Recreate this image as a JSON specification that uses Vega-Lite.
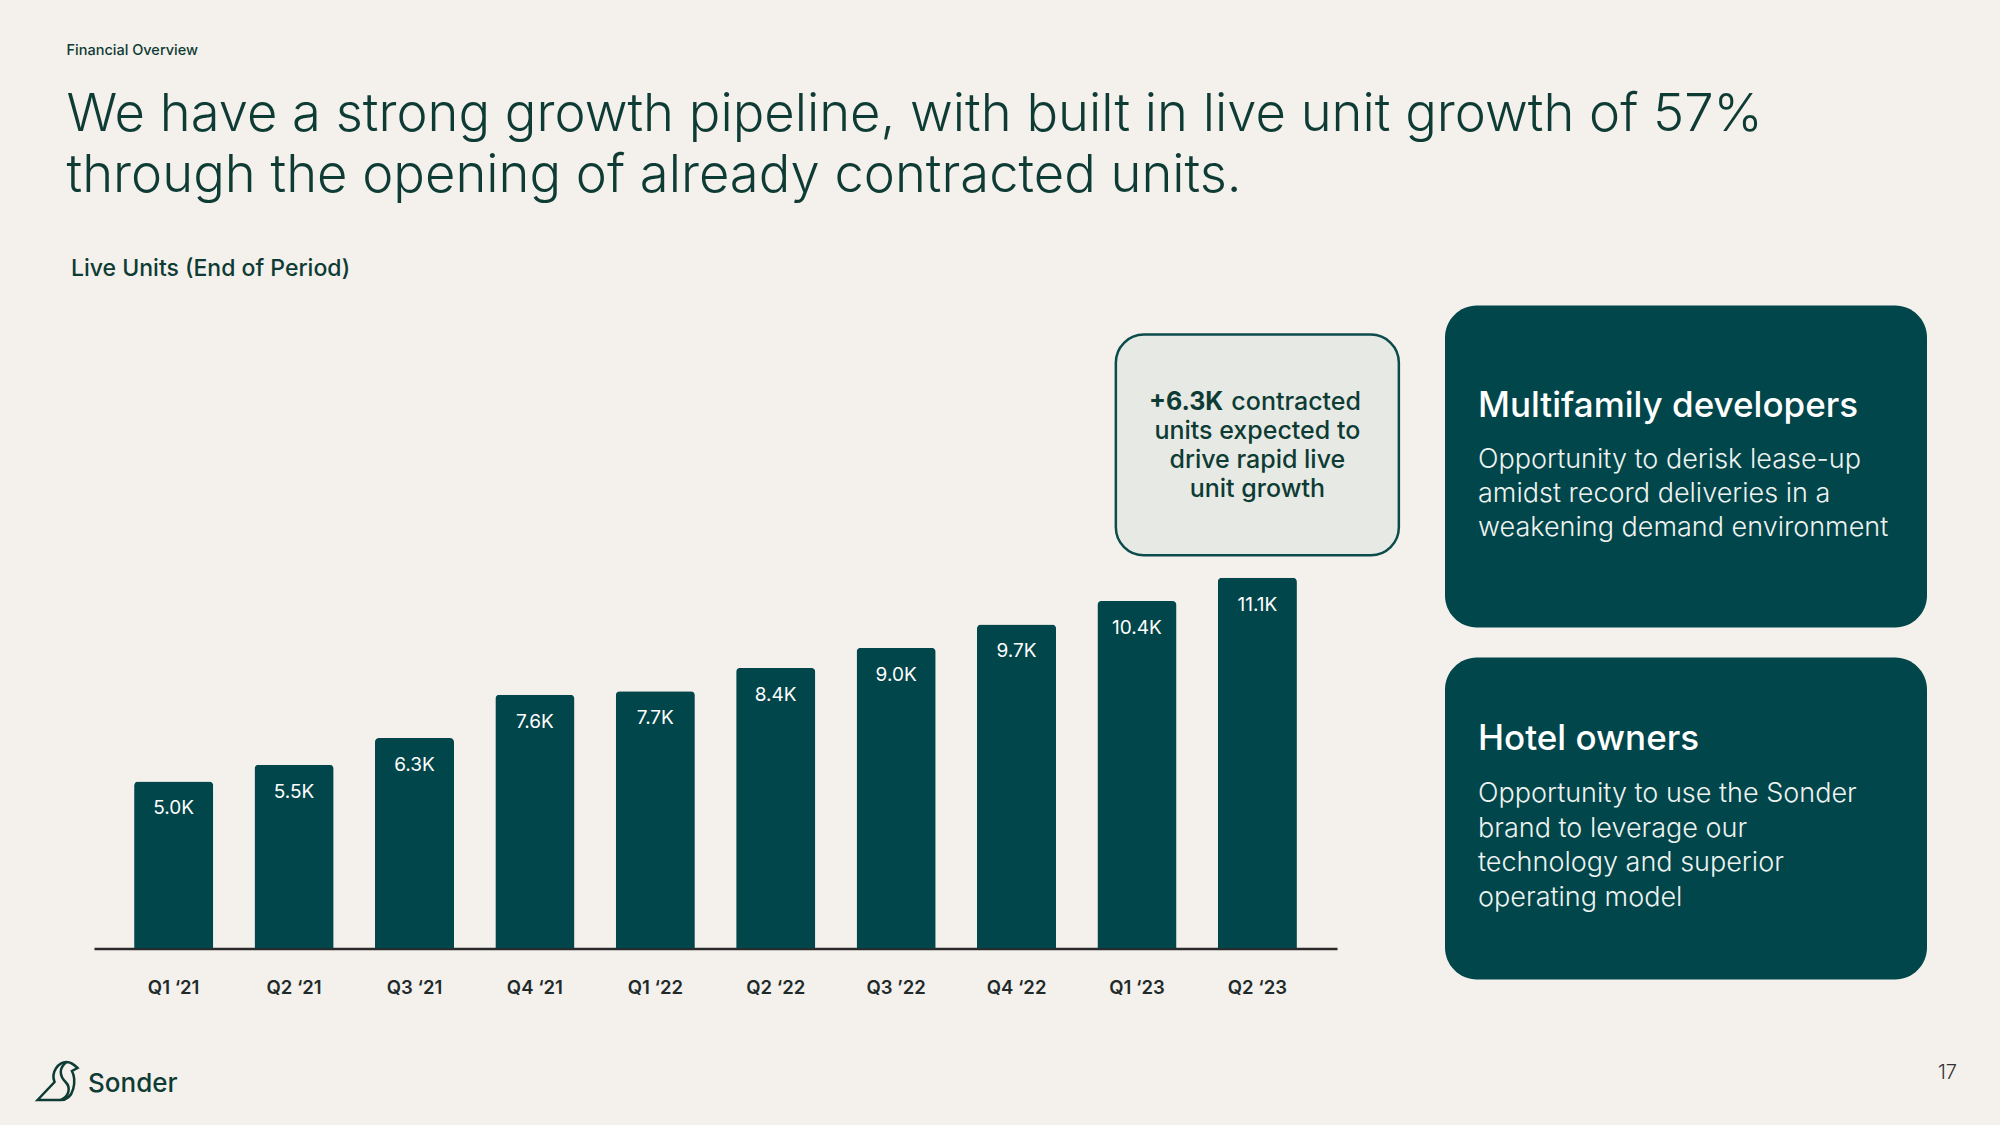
{
  "$schema": "https://vega.github.io/schema/vega-lite/v6.json",
  "background": "#F4F0EC",
  "padding": {"left": 32, "top": 42.5, "right": 43, "bottom": 23.5},
  "title": {
    "text": "Financial Overview",
    "subtitle": ["We have a strong growth pipeline, with built in live unit growth of 57%", "through the opening of already contracted units."],
    "anchor": "start",
    "dx": 34,
    "font": "Inter",
    "fontSize": 14.5,
    "fontWeight": 500,
    "color": "#0E3B34",
    "subtitleFont": "Inter",
    "subtitleFontSize": 52.5,
    "subtitleFontWeight": 300,
    "subtitleColor": "#0E3B34",
    "subtitleLineHeight": 61,
    "subtitlePadding": 31.5,
    "offset": 54
  },
  "config": {
    "font": "Inter",
    "view": {"stroke": null},
    "locale": {"number": {"decimal": ".", "thousands": ",", "grouping": [3], "currency": ["", "K"]}}
  },
  "spacing": 59,
  "vconcat": [
    {
      "title": {"text": "Live Units (End of Period)", "anchor": "start", "dx": 34, "fontSize": 23, "fontWeight": 500, "color": "#0E3B34", "offset": 7, "baseline": "alphabetic"},
      "spacing": 44,
      "hconcat": [
        {
          "width": 1300,
          "height": 643,
          "data": {"values": [
            {"quarter": "Q1 ‘21", "units": 5.0},
            {"quarter": "Q2 ‘21", "units": 5.5},
            {"quarter": "Q3 ‘21", "units": 6.3},
            {"quarter": "Q4 ‘21", "units": 7.6},
            {"quarter": "Q1 ‘22", "units": 7.7},
            {"quarter": "Q2 ‘22", "units": 8.4},
            {"quarter": "Q3 ’22", "units": 9.0},
            {"quarter": "Q4 ‘22", "units": 9.7},
            {"quarter": "Q1 ‘23", "units": 10.4},
            {"quarter": "Q2 ‘23", "units": 11.1}
          ]},
          "encoding": {
            "x": {
              "field": "quarter", "type": "nominal", "sort": null,
              "scale": {"domain": ["Q1 ‘21", "Q2 ‘21", "Q3 ‘21", "Q4 ‘21", "Q1 ‘22", "Q2 ‘22", "Q3 ’22", "Q4 ‘22", "Q1 ‘23", "Q2 ‘23"], "range": [57, 1300], "paddingInner": 0.343, "paddingOuter": 0.333},
              "axis": {"title": null, "labelAngle": 0, "labelFontSize": 18.5, "labelFontWeight": 600, "labelColor": "#1E2B2A", "ticks": false, "labelPadding": 30, "domainColor": "#2A2A2A", "domainWidth": 2.5, "grid": false}
            }
          },
          "layer": [
            {
              "mark": {"type": "bar", "color": "#01464A", "cornerRadiusTopLeft": 4, "cornerRadiusTopRight": 4},
              "encoding": {"y": {"field": "units", "type": "quantitative", "scale": {"domain": [0, 19.25], "nice": false}, "axis": null}}
            },
            {
              "mark": {"type": "text", "color": "#FFFFFF", "fontSize": 19, "baseline": "middle", "dy": 27},
              "encoding": {
                "y": {"field": "units", "type": "quantitative"},
                "text": {"field": "units", "type": "quantitative", "format": "$.1f"}
              }
            },
            {
              "data": {"values": [{}]},
              "mark": {"type": "bar", "width": 283, "cornerRadius": 28, "fill": "#E7EAE4", "stroke": "#0B4B4B", "strokeWidth": 2.5},
              "encoding": {"x": {"datum": "Q2 ‘23"}, "y": {"datum": 18.38}, "y2": {"datum": 11.77}}
            },
            {
              "data": {"values": [{}]},
              "mark": {"type": "text", "text": "+6.3K", "align": "right", "baseline": "alphabetic", "fontSize": 25, "fontWeight": 700, "color": "#0E3B34", "dx": -34},
              "encoding": {"x": {"datum": "Q2 ‘23"}, "y": {"datum": 16.12}}
            },
            {
              "data": {"values": [{}]},
              "mark": {"type": "text", "text": "contracted", "align": "left", "baseline": "alphabetic", "fontSize": 25, "fontWeight": 500, "color": "#0E3B34", "dx": -26},
              "encoding": {"x": {"datum": "Q2 ‘23"}, "y": {"datum": 16.12}}
            },
            {
              "data": {"values": [{}]},
              "mark": {"type": "text", "text": ["units expected to", "drive rapid live", "unit growth"], "align": "center", "baseline": "alphabetic", "lineHeight": 29, "fontSize": 25, "fontWeight": 500, "color": "#0E3B34"},
              "encoding": {"x": {"datum": "Q2 ‘23"}, "y": {"datum": 15.25}}
            }
          ]
        },
        {
          "spacing": 30,
          "vconcat": [
            {
              "width": 482,
              "height": 322,
              "view": {"fill": "#01464A", "cornerRadius": 32, "stroke": null},
              "data": {"values": [{"head": "Multifamily developers", "body": ["Opportunity to derisk lease-up", "amidst record deliveries in a", "weakening demand environment"]}]},
              "layer": [
                {
                  "mark": {"type": "text", "align": "left", "baseline": "alphabetic", "fontSize": 35, "fontWeight": 500, "color": "#FFFFFF"},
                  "encoding": {
                    "x": {"datum": 0.0685, "type": "quantitative", "scale": {"domain": [0, 1]}, "axis": null},
                    "y": {"datum": 0.655, "type": "quantitative", "scale": {"domain": [0, 1]}, "axis": null},
                    "text": {"field": "head"}
                  }
                },
                {
                  "mark": {"type": "text", "align": "left", "baseline": "alphabetic", "fontSize": 27, "fontWeight": 300, "lineHeight": 34, "color": "#EEF3F1"},
                  "encoding": {
                    "x": {"datum": 0.0685, "type": "quantitative"},
                    "y": {"datum": 0.494, "type": "quantitative"},
                    "text": {"field": "body"}
                  }
                }
              ]
            },
            {
              "width": 482,
              "height": 322,
              "view": {"fill": "#01464A", "cornerRadius": 32, "stroke": null},
              "data": {"values": [{"head": "Hotel owners", "body": ["Opportunity to use the Sonder", "brand to leverage our", "technology and superior", "operating model"]}]},
              "layer": [
                {
                  "mark": {"type": "text", "align": "left", "baseline": "alphabetic", "fontSize": 35, "fontWeight": 500, "color": "#FFFFFF"},
                  "encoding": {
                    "x": {"datum": 0.0685, "type": "quantitative", "scale": {"domain": [0, 1]}, "axis": null},
                    "y": {"datum": 0.714, "type": "quantitative", "scale": {"domain": [0, 1]}, "axis": null},
                    "text": {"field": "head"}
                  }
                },
                {
                  "mark": {"type": "text", "align": "left", "baseline": "alphabetic", "fontSize": 27, "fontWeight": 300, "lineHeight": 34.5, "color": "#EEF3F1"},
                  "encoding": {
                    "x": {"datum": 0.0685, "type": "quantitative"},
                    "y": {"datum": 0.55, "type": "quantitative"},
                    "text": {"field": "body"}
                  }
                }
              ]
            }
          ]
        }
      ]
    },
    {
      "width": 1920,
      "height": 44,
      "data": {"values": [{"brand": "Sonder", "page": "17"}]},
      "layer": [
        {
          "mark": {"type": "point", "shape": "M -1 0.95 L -0.15 0.05 C -0.35 -0.45 0.05 -0.95 0.45 -0.95 C 0.7 -0.95 0.85 -0.8 1 -0.65 L 0.72 -0.5 C 0.95 -0.05 0.85 0.95 0.15 0.95 Z M 0.45 -0.95 C 0.05 -0.65 0.1 -0.25 0.4 0.05 C 0.7 0.35 0.55 0.8 0.15 0.95", "size": 1600, "filled": false, "stroke": "#0E3B34", "strokeWidth": 2.5, "opacity": 1},
          "encoding": {
            "x": {"datum": 0.0107, "type": "quantitative", "scale": {"domain": [0, 1]}, "axis": null},
            "y": {"datum": 0.534, "type": "quantitative", "scale": {"domain": [0, 1]}, "axis": null}
          }
        },
        {
          "mark": {"type": "text", "align": "left", "baseline": "middle", "fontSize": 26, "fontWeight": 500, "color": "#0E3B34"},
          "encoding": {
            "x": {"datum": 0.0266, "type": "quantitative"},
            "y": {"datum": 0.466, "type": "quantitative"},
            "text": {"field": "brand"}
          }
        },
        {
          "mark": {"type": "text", "align": "right", "baseline": "middle", "fontSize": 20, "fontWeight": 300, "color": "#333333"},
          "encoding": {
            "x": {"datum": 1, "type": "quantitative"},
            "y": {"datum": 0.705, "type": "quantitative"},
            "text": {"field": "page"}
          }
        }
      ]
    }
  ]
}
